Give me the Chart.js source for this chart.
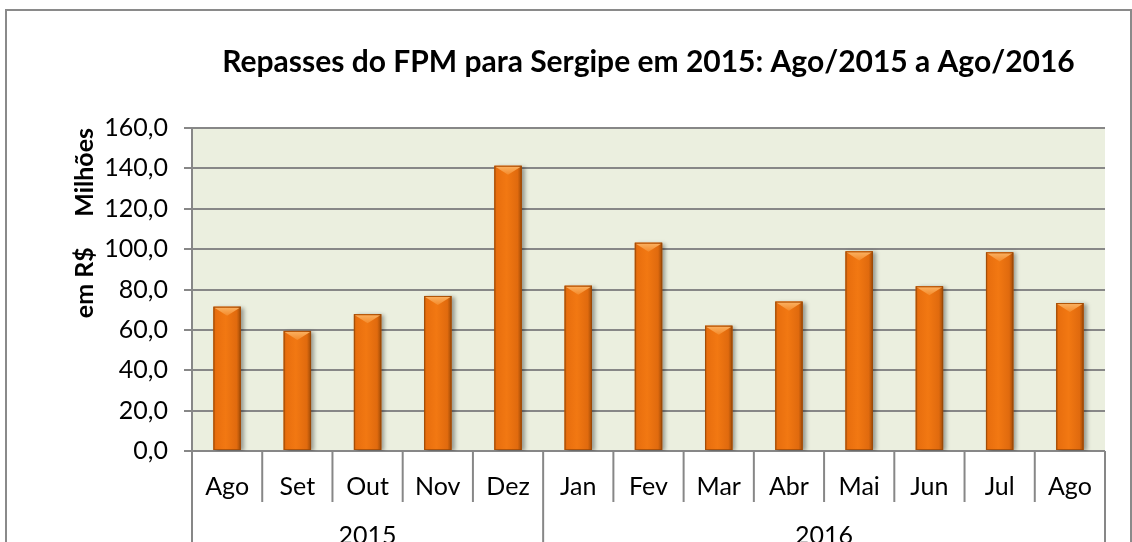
<!DOCTYPE html>
<html>
<head>
<meta charset="utf-8">
<script src="https://cdn.jsdelivr.net/npm/chart.js@4.4.0/dist/chart.umd.min.js"></script>
<style>
  html, body { margin: 0; padding: 0; background: #fff; overflow: hidden; }
  .wrap { position: relative; width: 1132px; height: 542px; }
  .frame {
    position: absolute; left: 5px; top: 9px; width: 1127px; height: 600px;
    border: 2px solid #8a8a8a; box-sizing: border-box;
  }
  canvas { position: absolute; left: 0; top: 0; }
</style>
</head>
<body>
<div class="wrap">
  <div class="frame"></div>
  <canvas id="fpmChart" width="1132" height="542"></canvas>
</div>
<script>
// --- DATA ---
const months = ["Ago", "Set", "Out", "Nov", "Dez", "Jan", "Fev", "Mar", "Abr", "Mai", "Jun", "Jul", "Ago"];
const repasses = [71.5, 59.5, 67.8, 76.8, 141.3, 81.9, 103.2, 62.1, 74.0, 98.9, 81.6, 98.4, 73.3];
const years = ["2015", "2016"];
const yearCounts = [5, 8];
const yTicks = { min: 0, max: 160, step: 20 };

const FONT = "Lato, 'Open Sans', sans-serif";
const GRID = "#878787";

// plot background (light green)
const plotBg = {
  id: "plotBg",
  beforeDraw(chart) {
    const { ctx, chartArea: a } = chart;
    ctx.save();
    ctx.fillStyle = "#ebefdf";
    ctx.fillRect(a.left, a.top, a.right - a.left, a.bottom - a.top);
    ctx.restore();
  }
};

// soft shadow under the bars, then gradient + bevel repaint
const barStyle = {
  id: "barStyle",
  beforeDatasetsDraw(chart) {
    const ctx = chart.ctx;
    ctx.save();
    ctx.shadowColor = "rgba(0,0,0,0.35)";
    ctx.shadowBlur = 4;
    ctx.shadowOffsetX = 3;
    ctx.shadowOffsetY = 1;
  },
  afterDatasetsDraw(chart) {
    chart.ctx.restore();
    const ctx = chart.ctx;
    chart.getDatasetMeta(0).data.forEach(bar => {
      const w = bar.width, x0 = bar.x - w / 2, top = bar.y, h = bar.base - bar.y;
      const g = ctx.createLinearGradient(x0, 0, x0 + w, 0);
      g.addColorStop(0, "#b85808");
      g.addColorStop(0.08, "#e86e0e");
      g.addColorStop(0.45, "#f27812");
      g.addColorStop(0.85, "#e06a0e");
      g.addColorStop(1, "#9e4a06");
      ctx.save();
      ctx.fillStyle = g;
      ctx.fillRect(x0, top, w, h);
      // top bevel: light triangle pointing down
      const d = Math.min(w * 0.33, h);
      const tg = ctx.createLinearGradient(0, top, 0, top + d);
      tg.addColorStop(0, "#fbb466");
      tg.addColorStop(1, "#f48a2a");
      ctx.fillStyle = tg;
      ctx.beginPath();
      ctx.moveTo(x0 + 1, top + 1);
      ctx.lineTo(x0 + w - 1, top + 1);
      ctx.lineTo(bar.x, top + d);
      ctx.closePath();
      ctx.fill();
      ctx.strokeStyle = "rgba(150,70,5,0.7)";
      ctx.lineWidth = 1;
      ctx.strokeRect(x0 + 0.5, top + 0.5, w - 1, h - 1);
      ctx.restore();
    });
  }
};

// two-level category box under the x axis
const categoryBox = {
  id: "categoryBox",
  afterDraw(chart) {
    const { ctx, chartArea: a, scales: { x } } = chart;
    const n = months.length;
    const cw = (x.right - x.left) / n;
    const groupEdges = [0];
    yearCounts.forEach((c, i) => groupEdges.push(groupEdges[i] + c));
    ctx.save();
    ctx.strokeStyle = GRID;
    ctx.lineWidth = 2;
    for (let i = 0; i <= n; i++) {
      const px = i < n ? x.getPixelForValue(i) - cw / 2 : x.right;
      const isGroup = groupEdges.includes(i);
      ctx.beginPath();
      ctx.moveTo(px, a.bottom);
      ctx.lineTo(px, isGroup ? chart.height : a.bottom + 51);
      ctx.stroke();
    }
    ctx.fillStyle = "#000";
    ctx.font = "25px " + FONT;
    ctx.textAlign = "center";
    ctx.textBaseline = "alphabetic";
    years.forEach((yr, i) => {
      const l = x.getPixelForValue(groupEdges[i]) - cw / 2;
      const r = x.getPixelForValue(groupEdges[i + 1] - 1) + cw / 2;
      ctx.fillText(yr, (l + r) / 2, chart.height + 2);
    });
    ctx.restore();
  }
};

new Chart(document.getElementById("fpmChart"), {
  type: "bar",
  data: {
    labels: months,
    datasets: [{
      data: repasses,
      backgroundColor: "#ee7211",
      borderWidth: 0,
      categoryPercentage: 1,
      barPercentage: 0.39
    }]
  },
  options: {
    responsive: false,
    animation: false,
    layout: { padding: { left: 0, right: 27, top: 0, bottom: 0 } },
    plugins: {
      legend: { display: false },
      tooltip: { enabled: false },
      title: {
        display: true,
        fullSize: false,
        text: "Repasses do FPM para Sergipe em 2015: Ago/2015 a Ago/2016",
        color: "#000",
        font: { family: FONT, size: 30, weight: "bold", lineHeight: 1.2 },
        padding: { top: 44, bottom: 48 }
      }
    },
    scales: {
      x: {
        grid: { display: false },
        border: { display: false },
        ticks: { color: "#000", font: { family: FONT, size: 25 }, padding: 13, maxRotation: 0 },
        afterFit(scale) { scale.height = 91; }
      },
      y: {
        min: yTicks.min,
        max: yTicks.max,
        ticks: {
          stepSize: yTicks.step,
          color: "#000",
          font: { family: FONT, size: 25 },
          padding: 16,
          callback: v => v.toFixed(1).replace(".", ",")
        },
        grid: { color: GRID, lineWidth: 2, tickLength: 8 },
        border: { display: true, color: GRID, width: 2 },
        title: {
          display: true,
          text: "em R$     Milhões",
          align: "end",
          color: "#000",
          font: { family: FONT, size: 25, weight: "bold", lineHeight: 1.2 },
          padding: { top: 70, bottom: 0 }
        },
        afterFit(scale) { scale.width = 192; }
      }
    }
  },
  plugins: [plotBg, barStyle, categoryBox]
});
</script>
</body>
</html>
